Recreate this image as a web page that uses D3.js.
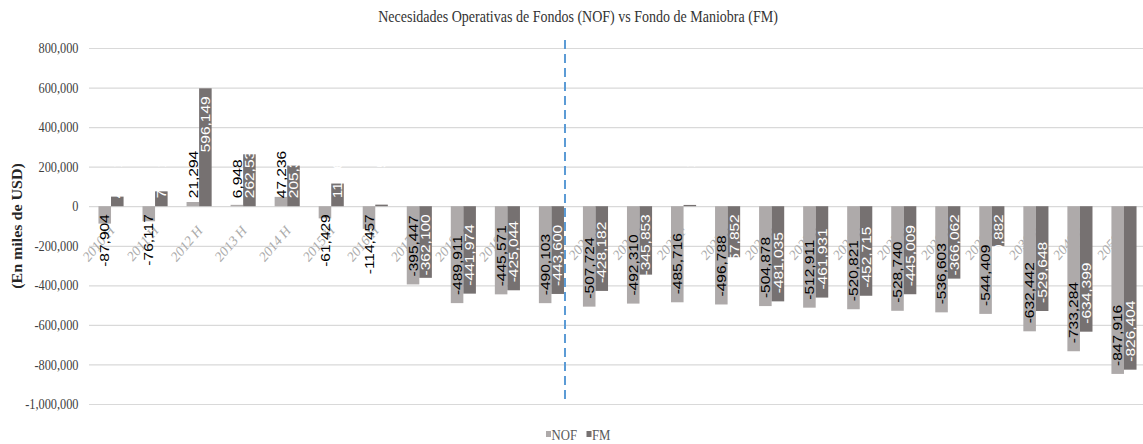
<!DOCTYPE html>
<html>
<head>
<meta charset="utf-8">
<script src="https://cdnjs.cloudflare.com/ajax/libs/d3/7.8.5/d3.min.js"></script>
<style>
	body { margin:0; background:#fff; }
	svg { display:block; font-family:"Liberation Serif","Times New Roman",serif; }
	.val-label { font-family:"Liberation Sans",Arial,sans-serif; font-size:15.5px; }
</style>
</head>
<body>
<div id="chart"></div>
<script>
// chart values
var categories = ['2010 H','2011 H','2012 H','2013 H','2014 H','2015 H','2016 H','2017 H','2018 H','2019 H','',
	'2020 F','2021 F','2022 F','2023 F','2024 F','2025 F','2026 F','2027 F','2028 F','2029 F','2039 F','2049 F','2059 F'];

var nofValues = [-87904,-76117,21294,6948,47236,-61429,-114457,-395447,-489911,-445571,-490103,
	-507724,-492310,-485716,-496788,-504878,-512911,-520821,-528740,-536603,-544409,-632442,-733284,-847916];

var fmValues = [48517,75210,596149,262534,205312,114651,8015,-362100,-441974,-425044,-443600,
	-428182,-345853,6521,-257852,-481035,-461931,-452715,-445009,-366062,-200882,-529648,-634399,-826404];

var seriesNames = ['NOF','FM'];
var seriesColors = ['#aeaaaa','#767171'];
var labelColors = ['#000000','#ffffff'];

var yTicks = [-1000000,-800000,-600000,-400000,-200000,0,200000,400000,600000,800000];

// last historic group, the dashed divider goes right after it
var dividerAfter = 10;

var svgWidth = 1143,
	svgHeight = 444;

var margin = {
	t:48,
	r:-3,
	b:40,
	l:89,
};

var width = svgWidth - margin.l - margin.r,
	height = svgHeight - margin.t - margin.b;

// the original picture is a bit squeezed sideways, so is its text
var sq = 0.85;

var svg = d3.select('#chart')
	.append('svg')
	.attr('width', svgWidth)
	.attr('height', svgHeight);

var chartGroup = svg.append('g')
	.attr('transform', `translate(${margin.l},${margin.t})`);

var fmt = d3.formatLocale({decimal:'.', thousands:',', grouping:[3], currency:['$',''], minus:'-'}).format(',');

var rows = categories.map((c, i) => ({i:i, NOF:nofValues[i], FM:fmValues[i]}));

var x0 = d3.scaleBand()
	.domain(d3.range(categories.length))
	.range([0, width])
	.paddingInner(0.43)
	.paddingOuter(0.215);

var x1 = d3.scaleBand()
	.domain(seriesNames)
	.range([0, x0.bandwidth()]);

var yScale = d3.scaleLinear()
	.domain([-1000000, 800000])
	.range([height, 0]);

var zero = yScale(0);

// =================================================================
// grid + y axis
// =================================================================
var yAxis = chartGroup.append('g')
	.call(d3.axisLeft(yScale)
		.tickValues(yTicks)
		.tickSize(-width)
		.tickPadding(9)
		.tickFormat(fmt));

yAxis.select('.domain').remove();
yAxis.selectAll('line')
	.attr('stroke', '#d9d9d9')
	.attr('stroke-width', 1.2);
yAxis.selectAll('text')
	.attr('font-family', '"Liberation Serif","Times New Roman",serif')
	.attr('font-size', 14.5)
	.attr('fill', '#404040')
	.attr('x', -10.5 / sq)
	.attr('transform', `scale(${sq},1)`);

// category labels sit behind the bars
var xAxis = chartGroup.append('g')
	.attr('transform', `translate(0,${zero})`)
	.call(d3.axisBottom(x0).tickSize(0).tickFormat(i => categories[i]));

xAxis.select('.domain').remove();
xAxis.selectAll('text')
	.attr('font-family', '"Liberation Serif","Times New Roman",serif')
	.attr('font-size', 15)
	.attr('fill', '#ababab')
	.attr('text-anchor', 'end')
	.attr('x', 0)
	.attr('y', 0)
	.attr('dy', 0)
	.attr('transform', `translate(4,25)scale(${sq},1)rotate(-45)`);

// =================================================================
// bars
// =================================================================
var groups = chartGroup.append('g').selectAll('g')
	.data(rows)
	.enter()
	.append('g')
	.attr('transform', d => `translate(${x0(d.i)},0)`);

groups.selectAll('rect')
	.data(d => seriesNames.map((k, j) => ({key:k, j:j, v:d[k]})))
	.enter()
	.append('rect')
	.attr('x', d => x1(d.key))
	.attr('y', d => yScale(Math.max(0, d.v)))
	.attr('width', x1.bandwidth())
	.attr('height', d => Math.abs(yScale(d.v) - zero))
	.attr('fill', d => seriesColors[d.j]);

// value labels: rotated, inside end, pushed to the base when the bar is short
var pad = 8;
groups.selectAll('text')
	.data(d => seriesNames.map((k, j) => ({key:k, j:j, v:d[k]})))
	.enter()
	.append('text')
	.classed('val-label', true)
	.attr('fill', d => labelColors[d.j])
	.text(d => fmt(d.v))
	.each(function(d){
		var L = this.getComputedTextLength();
		var cx = x1(d.key) + x1.bandwidth() / 2 + 4.7;
		var ys;
		if (d.v < 0) ys = Math.max(yScale(d.v) - pad, zero + pad + L);
		else ys = Math.min(yScale(d.v) + pad + L, zero - pad);
		d3.select(this).attr('transform', `translate(${cx},${ys})scale(${sq},1)rotate(-90)`);
	});

// dashed divider between historic and forecast
var divX = x0(dividerAfter) + x0.bandwidth() + 1;
chartGroup.append('line')
	.attr('x1', divX)
	.attr('x2', divX)
	.attr('y1', -8)
	.attr('y2', height - 4)
	.attr('stroke', '#5b9bd5')
	.attr('stroke-width', 2)
	.attr('stroke-dasharray', '9,5');

// =================================================================
// title, axis title, legend
// =================================================================
svg.append('text')
	.attr('transform', `translate(578,22)scale(${sq},1)`)
	.attr('text-anchor', 'middle')
	.attr('font-size', 16.5)
	.attr('fill', '#333333')
	.text('Necesidades Operativas de Fondos (NOF) vs Fondo de Maniobra (FM)');

svg.append('text')
	.attr('transform', `translate(22,${margin.t + height / 2})scale(${sq},1)rotate(-90)`)
	.attr('text-anchor', 'middle')
	.attr('font-size', 16)
	.attr('font-weight', 'bold')
	.attr('fill', '#262626')
	.text('(En miles de USD)');

var legend = svg.append('g')
	.attr('transform', 'translate(546,436)');

var legendItems = legend.selectAll('g')
	.data(seriesNames)
	.enter()
	.append('g')
	.attr('transform', (d, i) => `translate(${i * 40.5},0)`);

legendItems.append('rect')
	.attr('x', 0)
	.attr('y', -5)
	.attr('width', 5)
	.attr('height', 6)
	.attr('fill', (d, i) => seriesColors[i]);

legendItems.append('text')
	.attr('transform', `translate(5.5,4)scale(${sq},1)`)
	.attr('font-size', 15)
	.attr('fill', '#595959')
	.text(d => d);
</script>
</body>
</html>
